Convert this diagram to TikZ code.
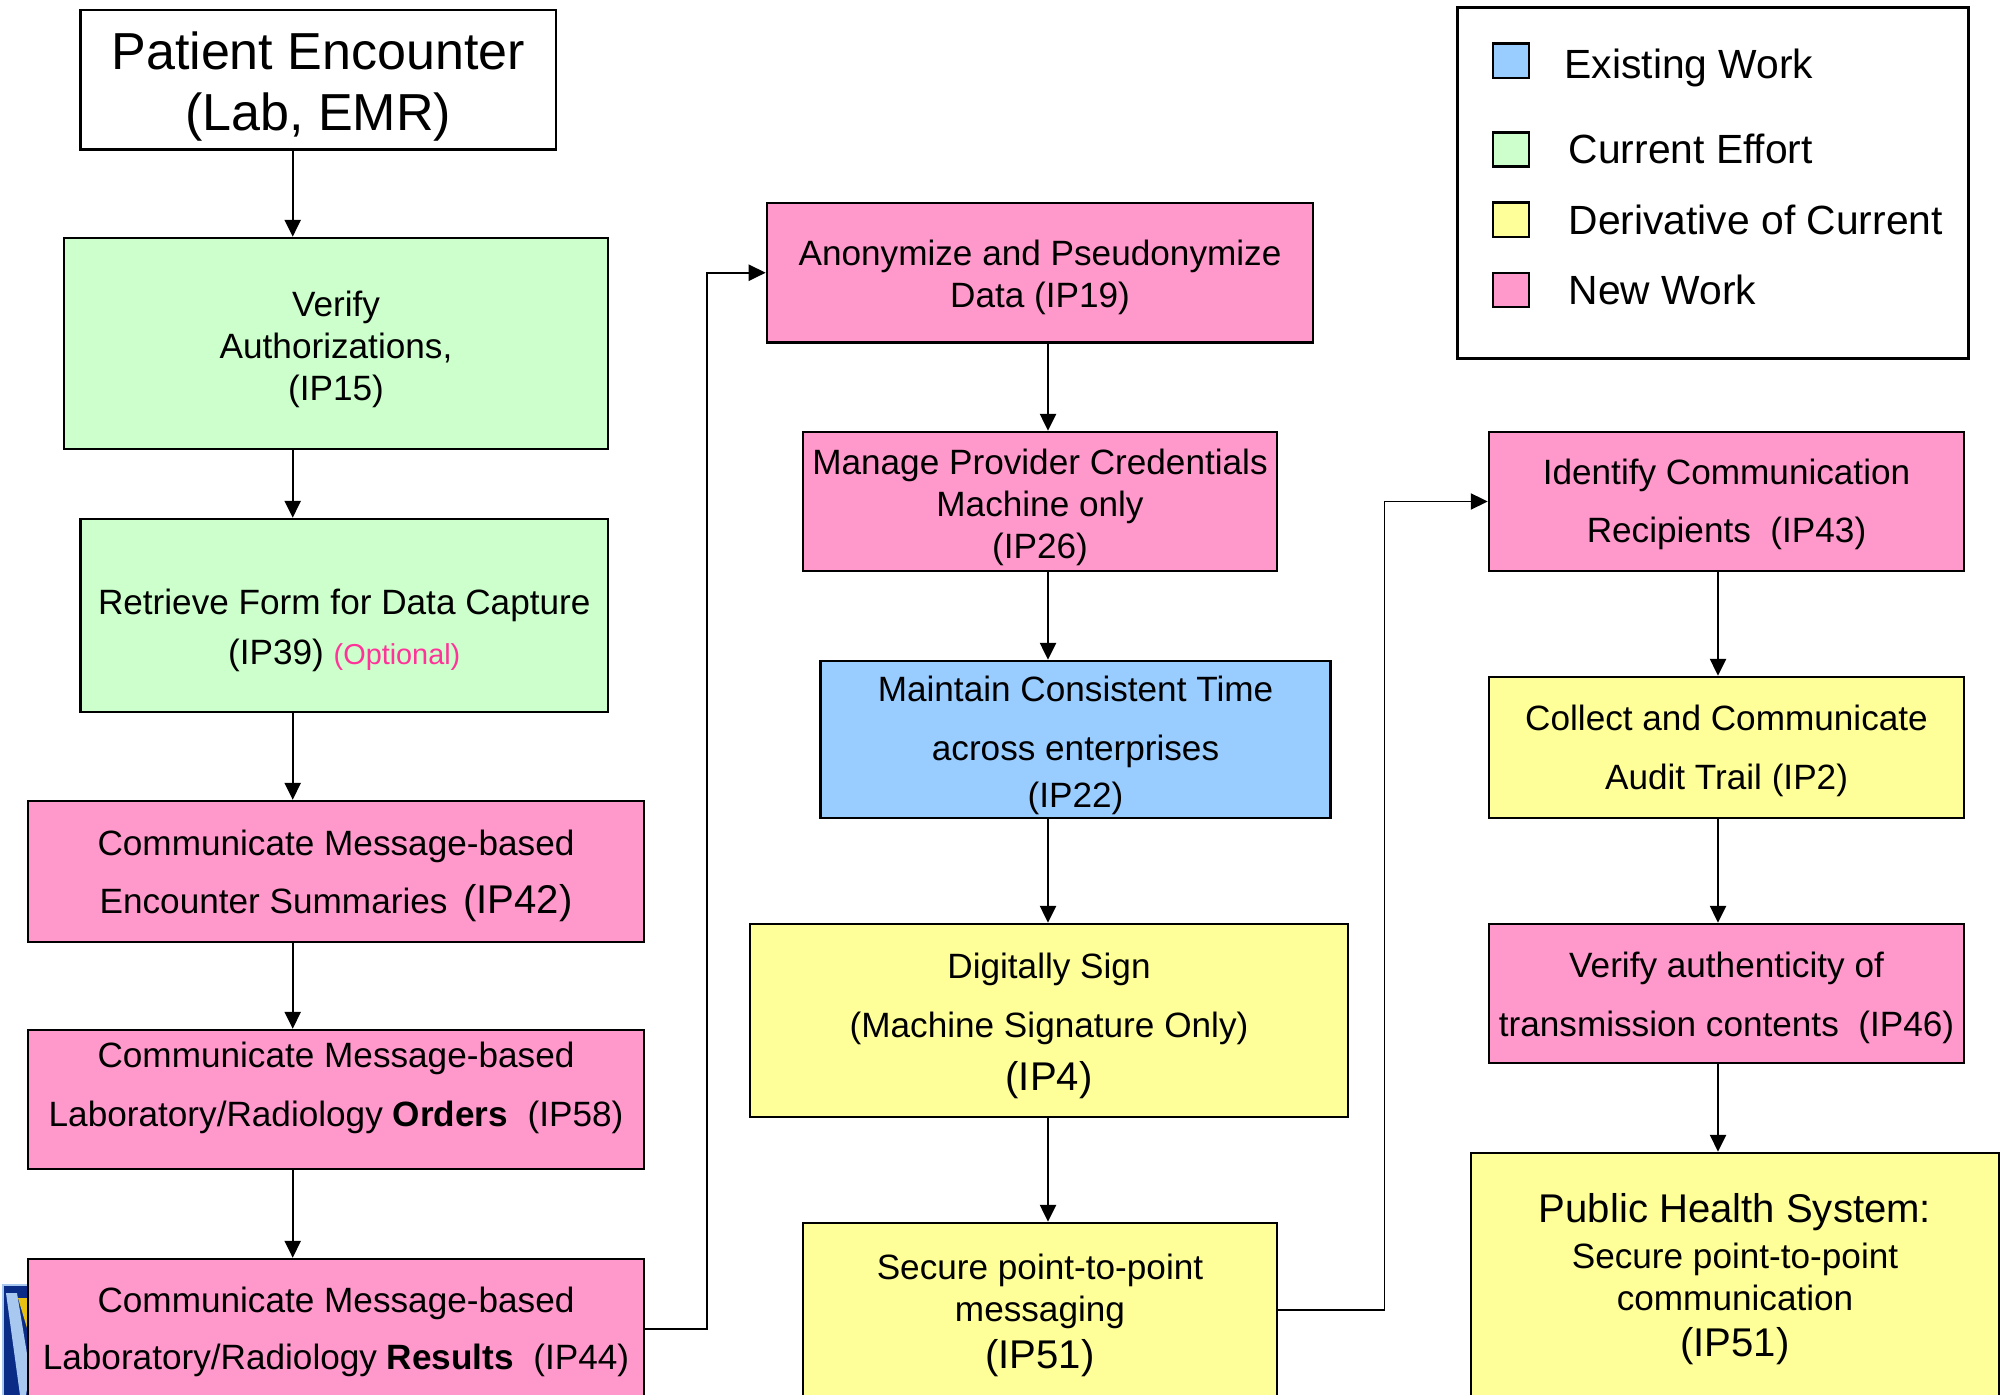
\documentclass[tikz,border=0pt]{standalone}
\usepackage{fontspec}
\setmainfont{Liberation Sans}
\usetikzlibrary{arrows.meta}
\definecolor{cpink}{HTML}{FF99CC}
\definecolor{cgreen}{HTML}{CCFFCC}
\definecolor{cyellow}{HTML}{FFFF99}
\definecolor{cblue}{HTML}{99CCFF}
\definecolor{optpink}{HTML}{FF3399}
\definecolor{logonavy}{HTML}{0B2C86}
\definecolor{logolight}{HTML}{A8C8F0}
\definecolor{logoyellow}{HTML}{E8C010}
\newcommand\boxtext[2][-1.5pt]{\raisebox{#1}[\height][\depth]{\begin{tabular}{@{}c@{}}#2\end{tabular}}}
\newcommand\ipbig{\fontsize{11.4}{12}\selectfont}
\begin{document}
\begin{tikzpicture}[x=0.01cm,y=-0.01cm,
  box/.style={draw=black, line width=0.7pt, inner sep=0pt, font=\fontsize{10}{12}\selectfont},
  arr/.style={draw=black, line width=0.5pt, -{Triangle[length=4.8pt,width=4.6pt]}},
  legsq/.style={draw=black, line width=0.7pt, minimum width=0.36cm, minimum height=0.34cm, inner sep=0pt},
  legtx/.style={anchor=base west, inner sep=0pt, font=\fontsize{11.6}{14}\selectfont}]
\useasboundingbox (0,0) rectangle (2004,1395);
\fill[white] (0,0) rectangle (2004,1395);
\clip (0,0) rectangle (2004,1395);

% column coordinates for the vertical connectors
\coordinate (c1) at (292.7,0);
\coordinate (c2) at (1048,0);
\coordinate (c3) at (1718,0);

% logo fragment behind the bottom-left box
\fill[logonavy] (3,1285) rectangle (45,1395);
\draw[logolight, line width=0.6pt] (3,1395) -- (3,1285) -- (45,1285);
\fill[logolight] (6,1293) -- (17,1293) -- (30,1372) -- (26,1395) -- (20,1395) -- cycle;
\fill[logoyellow] (18,1298) -- (30,1298) -- (30,1338) -- cycle;

% column 1
\node[box, fill=white, minimum width=4.755cm, minimum height=1.395cm, font=\fontsize{14.8}{17.4}\selectfont]
  (pe) at (318.25,79.75) {\boxtext[-2.2pt]{Patient Encounter\\(Lab, EMR)}};
\node[box, fill=cgreen, minimum width=5.44cm, minimum height=2.11cm]
  (va) at (336,343.5) {\boxtext[-1.8pt]{Verify\\Authorizations,\\(IP15)}};
\node[box, fill=cgreen, minimum width=5.275cm, minimum height=1.93cm]
  (rf) at (344.25,615.5) {\boxtext[-4.4pt]{Retrieve Form for Data Capture\\[2.2pt](IP39) {\color{optpink}\fontsize{8.2}{10}\selectfont (Optional)}}};
\node[box, fill=cpink, minimum width=6.16cm, minimum height=1.41cm]
  (es) at (336,871.5) {\boxtext[-1.3pt]{Communicate Message-based\\[4.5pt]Encounter Summaries\ \,{\ipbig (IP42)}}};
\node[box, fill=cpink, minimum width=6.16cm, minimum height=1.39cm]
  (lo) at (336,1099.5) {\boxtext[3.0pt]{Communicate Message-based\\[4.8pt]Laboratory/Radiology \textbf{Orders}\ \ (IP58)}};
\node[box, fill=cpink, minimum width=6.16cm, minimum height=1.40cm]
  (lr) at (336,1329) {\boxtext[-1.1pt]{Communicate Message-based\\[4.2pt]Laboratory/Radiology \textbf{Results}\ \ (IP44)}};

% column 2
\node[box, fill=cpink, minimum width=5.46cm, minimum height=1.395cm]
  (an) at (1040,272.75) {\boxtext{Anonymize and Pseudonymize\\Data (IP19)}};
\node[box, fill=cpink, minimum width=4.74cm, minimum height=1.39cm]
  (mp) at (1040,501.5) {\boxtext[-1.8pt]{Manage Provider Credentials\\Machine only\\(IP26)}};
\node[box, fill=cblue, minimum width=5.10cm, minimum height=1.57cm]
  (mt) at (1075.5,739.5) {\boxtext[-1.8pt]{Maintain Consistent Time\\[4.8pt]across enterprises\\[1.4pt](IP22)}};
\node[box, fill=cyellow, minimum width=5.98cm, minimum height=1.93cm]
  (ds) at (1049,1020.5) {\boxtext{Digitally Sign\\[4.8pt](Machine Signature Only)\\[3pt]{\ipbig (IP4)}}};
\node[box, fill=cyellow, minimum width=4.74cm, minimum height=1.74cm]
  (sm) at (1040,1310) {\boxtext[-1.6pt]{Secure point-to-point\\messaging\\[1.3pt]{\ipbig (IP51)}}};

% column 3
\node[box, fill=cpink, minimum width=4.75cm, minimum height=1.39cm]
  (ic) at (1726.5,501.5) {\boxtext[-1.1pt]{Identify Communication\\[4.6pt]Recipients\ \ (IP43)}};
\node[box, fill=cyellow, minimum width=4.75cm, minimum height=1.41cm]
  (ca) at (1726.5,747.5) {\boxtext[-1.1pt]{Collect and Communicate\\[4.8pt]Audit Trail (IP2)}};
\node[box, fill=cpink, minimum width=4.75cm, minimum height=1.39cm]
  (vt) at (1726.5,993.5) {\boxtext{Verify authenticity of\\[4.8pt]transmission contents\ \ (IP46)}};
\node[box, fill=cyellow, minimum width=5.28cm, minimum height=2.46cm]
  (ph) at (1735,1276) {\boxtext{{\ipbig Public Health System:}\\[1pt]Secure point-to-point\\communication\\[1.2pt]{\ipbig (IP51)}}};

% legend
\node[draw=black, line width=0.8pt, minimum width=5.10cm, minimum height=3.503cm, inner sep=0pt]
  (legend) at (1713,182.85) {};
\node[legsq, fill=cblue] (lsq1) at (1511,60.75) {};
\node[legsq, fill=cgreen] (lsq2) at (1511,149.5) {};
\node[legsq, fill=cyellow] (lsq3) at (1511,219.75) {};
\node[legsq, fill=cpink] (lsq4) at (1511,290) {};
\node[legtx] (ltx1) at (1564,78.5) {Existing Work};
\node[legtx] (ltx2) at (1568,164) {Current Effort};
\node[legtx] (ltx3) at (1568,234.5) {Derivative of Current};
\node[legtx] (ltx4) at (1568,304.5) {New Work};

% connectors column 1
\draw[arr] (pe.south -| c1) -- (va.north -| c1);
\draw[arr] (va.south -| c1) -- (rf.north -| c1);
\draw[arr] (rf.south -| c1) -- (es.north -| c1);
\draw[arr] (es.south -| c1) -- (lo.north -| c1);
\draw[arr] (lo.south -| c1) -- (lr.north -| c1);
% connectors column 2
\draw[arr] (an.south -| c2) -- (mp.north -| c2);
\draw[arr] (mp.south -| c2) -- (mt.north -| c2);
\draw[arr] (mt.south -| c2) -- (ds.north -| c2);
\draw[arr] (ds.south -| c2) -- (sm.north -| c2);
% connectors column 3
\draw[arr] (ic.south -| c3) -- (ca.north -| c3);
\draw[arr] (ca.south -| c3) -- (vt.north -| c3);
\draw[arr] (vt.south -| c3) -- (ph.north -| c3);
% elbow connectors between columns
\draw[arr] (lr.east) -- ++(61.5,0) |- (an.west);
\draw[arr] (sm.east) -- ++(106,0) |- (ic.west);
\end{tikzpicture}
\end{document}
